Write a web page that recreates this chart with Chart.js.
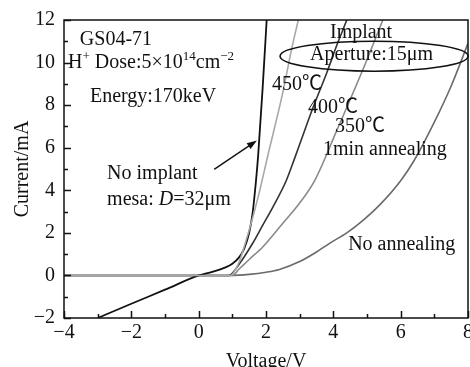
<!DOCTYPE html>
<html>
<head>
<meta charset="utf-8">
<script src="https://cdn.jsdelivr.net/npm/chart.js@4.4.1/dist/chart.umd.min.js"></script>
<style>
  html, body { margin: 0; padding: 0; background: #fff; }
  #wrap { width: 470px; height: 367px; }
</style>
</head>
<body>
<div id="wrap"><canvas id="ivChart"></canvas></div>
<script>
// I-V curves, voltage in V, current in mA
const voltNoImplant = [-3, -2, -1, 0, 0.4, 0.8, 1.0, 1.2, 1.35, 1.5, 1.6, 1.7, 1.77, 1.9, 2.02];
const currNoImplant = [-2, -1.33, -0.67, 0, 0.17, 0.38, 0.55, 0.85, 1.25, 2.0, 2.9, 4.4, 5.7, 8.8, 12];

const volt450 = [-4, 0.95, 1.1, 1.23, 1.4, 1.62, 1.8, 2.05, 2.5, 2.77, 2.96];
const curr450 = [0, 0, 0.3, 0.75, 1.6, 2.8, 3.9, 5.6, 8.6, 10.7, 12];

const volt400 = [-4, 0.9, 1.1, 1.3, 1.6, 1.9, 2.2, 2.6, 2.85, 3.1, 3.4, 3.8, 4.1, 4.4];
const curr400 = [0, 0, 0.3, 0.75, 1.5, 2.35, 3.2, 4.45, 5.5, 6.6, 7.9, 9.5, 10.8, 12];

const volt350 = [-4, 1.0, 1.2, 1.5, 1.91, 2.5, 3.0, 3.45, 4.1, 4.99, 5.47];
const curr350 = [0, 0, 0.3, 0.75, 1.35, 2.45, 3.4, 4.47, 6.8, 10.1, 12];

const voltNoAnneal = [-4, 0.95, 1.5, 2.0, 2.4, 3.0, 3.5, 3.9, 4.4, 4.89, 5.4, 6.0, 6.4, 7.0, 7.5, 8.0];
const currNoAnneal = [0, 0, 0.05, 0.15, 0.28, 0.65, 1.1, 1.52, 2.0, 2.6, 3.35, 4.45, 5.4, 7.2, 8.9, 10.9];

const xTicks = [-4, -2, 0, 2, 4, 6, 8];
const yTicks = [-2, 0, 2, 4, 6, 8, 10, 12];

const FONT = '"Liberation Serif", "Times New Roman", serif';
const CJK = '"Liberation Serif", "Noto Sans CJK SC", serif';

function pts(xs, ys) {
  return xs.map((v, i) => ({ x: v, y: ys[i] }));
}

function curve(label, xs, ys, color, width) {
  return {
    label,
    data: pts(xs, ys),
    borderColor: color,
    borderWidth: width,
    pointRadius: 0,
    showLine: true,
    fill: false,
    cubicInterpolationMode: 'monotone',
  };
}

const minus = v => String(v).replace('-', '\u2212');

// frame box and inward tick marks
const frameTicks = {
  id: 'frameTicks',
  afterDatasetsDraw(chart) {
    const { ctx, chartArea: a, scales: { x, y } } = chart;
    ctx.save();
    ctx.strokeStyle = '#111';
    ctx.lineWidth = 1.5;
    ctx.strokeRect(a.left, a.top, a.right - a.left, a.bottom - a.top);
    ctx.beginPath();
    for (let v = xTicks[0]; v <= xTicks[xTicks.length - 1]; v++) {
      const px = Math.round(x.getPixelForValue(v)) + 0.5;
      const len = v % 2 === 0 ? 7 : 4;
      ctx.moveTo(px, a.bottom);
      ctx.lineTo(px, a.bottom - len);
    }
    for (let v = yTicks[0]; v <= yTicks[yTicks.length - 1]; v++) {
      const py = Math.round(y.getPixelForValue(v)) + 0.5;
      const len = v % 2 === 0 ? 7 : 4;
      ctx.moveTo(a.left, py);
      ctx.lineTo(a.left + len, py);
    }
    ctx.stroke();
    ctx.restore();
  }
};

// text notes, arrow and ellipse inside the plot
function drawRuns(ctx, runs, x0, yMid) {
  let cx = x0;
  runs.forEach(r => {
    const size = r.sup ? 13 : 20;
    ctx.font = (r.italic ? 'italic ' : '') + size + 'px ' + (r.cjk ? CJK : FONT);
    ctx.fillText(r.t, cx, r.sup ? yMid - 7 : yMid);
    cx += ctx.measureText(r.t).width;
  });
}

const notes = {
  id: 'notes',
  afterDraw(chart) {
    const { ctx, scales: { x, y } } = chart;
    const X = v => x.getPixelForValue(v);
    const Y = v => y.getPixelForValue(v);
    ctx.save();
    ctx.fillStyle = '#111';
    ctx.textBaseline = 'middle';
    ctx.textAlign = 'left';

    const lines = [
      [-3.53, 11.05, [{ t: 'GS04-71' }]],
      [-3.88, 9.97, [{ t: 'H' }, { t: '+', sup: true }, { t: ' Dose:5×10' }, { t: '14', sup: true }, { t: 'cm' }, { t: '\u22122', sup: true }]],
      [-3.23, 8.38, [{ t: 'Energy:170keV' }]],
      [3.9, 11.39, [{ t: 'Implant' }]],
      [3.31, 10.35, [{ t: 'Aperture:15\u03bcm' }]],
      [2.18, 8.95, [{ t: '450', }, { t: '\u2103', cjk: true }]],
      [3.25, 7.9, [{ t: '400' }, { t: '\u2103', cjk: true }]],
      [4.05, 6.97, [{ t: '350' }, { t: '\u2103', cjk: true }]],
      [3.69, 5.9, [{ t: '1min annealing' }]],
      [-2.72, 4.8, [{ t: 'No implant' }]],
      [-2.72, 3.54, [{ t: 'mesa: ' }, { t: 'D', italic: true }, { t: '=32\u03bcm' }]],
      [4.44, 1.43, [{ t: 'No annealing' }]],
    ];
    lines.forEach(([vx, vy, runs]) => drawRuns(ctx, runs, X(vx), Y(vy)));

    // ellipse around the aperture note
    ctx.strokeStyle = '#111';
    ctx.lineWidth = 1.6;
    ctx.beginPath();
    ctx.ellipse(X(5.21), Y(10.3), 94, 15, 0, 0, Math.PI * 2);
    ctx.stroke();

    // arrow pointing at the no-implant curve
    const x1 = X(0.46), y1 = Y(4.98), x2 = X(1.73), y2 = Y(6.34);
    const ang = Math.atan2(y2 - y1, x2 - x1);
    ctx.lineWidth = 1.4;
    ctx.beginPath();
    ctx.moveTo(x1, y1);
    ctx.lineTo(x2 - 6 * Math.cos(ang), y2 - 6 * Math.sin(ang));
    ctx.stroke();
    ctx.beginPath();
    ctx.moveTo(x2, y2);
    ctx.lineTo(x2 - 10 * Math.cos(ang) + 3.5 * Math.sin(ang), y2 - 10 * Math.sin(ang) - 3.5 * Math.cos(ang));
    ctx.lineTo(x2 - 10 * Math.cos(ang) - 3.5 * Math.sin(ang), y2 - 10 * Math.sin(ang) + 3.5 * Math.cos(ang));
    ctx.closePath();
    ctx.fill();

    // axis titles
    const a = chart.chartArea;
    ctx.font = '20px ' + FONT;
    ctx.textAlign = 'center';
    ctx.fillText('Voltage/V', (a.left + a.right) / 2 + 0, 362);
    ctx.translate(23, 169);
    ctx.rotate(-Math.PI / 2);
    ctx.fillText('Current/mA', 0, 0);
    ctx.restore();
  }
};

new Chart(document.getElementById('ivChart'), {
  type: 'scatter',
  data: {
    datasets: [
      curve('450 \u2103', volt450, curr450, '#a8a8a8', 1.6),
      curve('No implant', voltNoImplant, currNoImplant, '#111111', 1.8),
      curve('400 \u2103', volt400, curr400, '#333333', 1.6),
      curve('350 \u2103', volt350, curr350, '#8a8a8a', 1.6),
      curve('No annealing', voltNoAnneal, currNoAnneal, '#6a6a6a', 1.6),
    ],
  },
  options: {
    responsive: true,
    maintainAspectRatio: false,
    animation: false,
    layout: { padding: { top: 20, right: 2, left: 0, bottom: 0 } },
    plugins: {
      legend: { display: false },
      tooltip: { enabled: false },
    },
    scales: {
      x: {
        type: 'linear',
        min: xTicks[0],
        max: xTicks[xTicks.length - 1],
        grid: { display: false, drawTicks: false },
        border: { display: false },
        afterBuildTicks: s => { s.ticks = xTicks.map(v => ({ value: v })); },
        afterFit: s => { s.height = 49; s.paddingLeft = 0; s.paddingRight = 0; },
        ticks: {
          color: '#111',
          padding: 3,
          maxRotation: 0,
          autoSkip: false,
          font: { family: FONT, size: 20 },
          callback: minus,
        },
      },
      y: {
        type: 'linear',
        min: yTicks[0],
        max: yTicks[yTicks.length - 1],
        grid: { display: false, drawTicks: false },
        border: { display: false },
        afterBuildTicks: s => { s.ticks = yTicks.map(v => ({ value: v })); },
        afterFit: s => { s.width = 64; s.paddingTop = 0; s.paddingBottom = 0; },
        ticks: {
          color: '#111',
          padding: 9,
          autoSkip: false,
          font: { family: FONT, size: 20 },
          callback: minus,
        },
      },
    },
  },
  plugins: [frameTicks, notes],
});
</script>
</body>
</html>
